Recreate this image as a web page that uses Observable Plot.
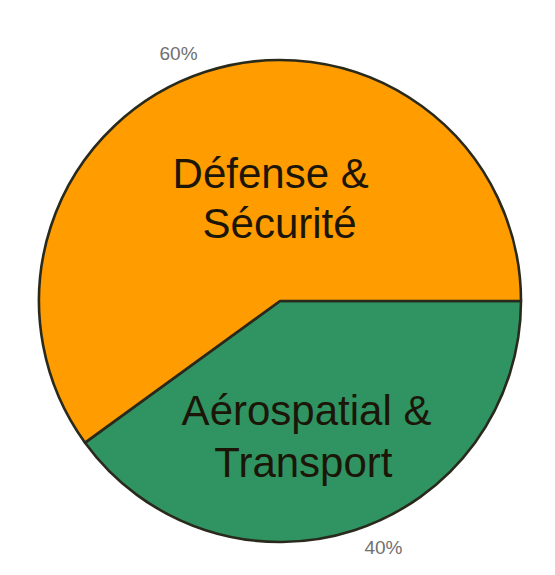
<!DOCTYPE html>
<html>
<head>
<meta charset="utf-8">
<script src="https://cdn.jsdelivr.net/npm/d3@7"></script>
<script src="https://cdn.jsdelivr.net/npm/@observablehq/plot@0.6"></script>
<style>
  html, body { margin: 0; padding: 0; background: #ffffff; }
  #chart { width: 555px; height: 575px; }
</style>
</head>
<body>
<div id="chart"></div>
<script>
// ---- data ----
const categories = ["Aérospatial & Transport", "Défense & Sécurité"];
const shares = [40, 60];
const colors = ["#2F9462", "#FF9C00"];
const sliceLines = [["Aérospatial &", "Transport"], ["Défense &", "Sécurité"]];
const pctLabels = ["40%", "60%"];

// ---- layout (unit-circle coordinates, not data) ----
const lineSpots = [
  [[0.108, 0.456], [0.095, 0.672]],
  [[-0.041, -0.527], [-0.004, -0.320]]
];
const pctSpots = [[0.427, 1.021], [-0.423, -1.029]];

const arcs = d3.pie().sort(null)
  .startAngle(Math.PI / 2)
  .endAngle(Math.PI / 2 + 2 * Math.PI)(shares);

const slices = categories.map((c, i) => ({category: c, value: shares[i], arc: arcs[i], color: colors[i]}));

const lineRows = [];
sliceLines.forEach((lines, i) => lines.forEach((t, j) => lineRows.push({text: t, x: lineSpots[i][j][0], y: lineSpots[i][j][1]})));
const pctRows = pctLabels.map((t, i) => ({text: t, x: pctSpots[i][0], y: pctSpots[i][1]}));

function pieMark(index, scales) {
  const cx = scales.x(0), cy = scales.y(0), r = scales.x(1) - cx;
  const g = d3.create("svg:g").attr("transform", `translate(${cx},${cy})`);
  const arcGen = d3.arc().innerRadius(0).outerRadius(r);
  g.selectAll("path").data(slices).join("path")
    .attr("d", d => arcGen(d.arc))
    .attr("fill", d => d.color)
    .attr("stroke", "#2a2a1c")
    .attr("stroke-width", 2.6)
    .attr("stroke-linejoin", "round");
  return g.node();
}

const chart = Plot.plot({
  width: 555,
  height: 575,
  margin: 0,
  style: {background: "#ffffff", fontFamily: "Liberation Sans, Arial, sans-serif"},
  x: {domain: [-1, 1], range: [39, 521], axis: null},
  y: {domain: [-1, 1], range: [60, 542], axis: null},
  marks: [
    pieMark,
    Plot.text(lineRows, {x: "x", y: "y", text: "text", fontSize: 42, fill: "#1c1608", textAnchor: "middle"}),
    Plot.text(pctRows, {x: "x", y: "y", text: "text", fontSize: 19, fill: "#707070", textAnchor: "middle"})
  ]
});
document.getElementById("chart").appendChild(chart);
</script>
</body>
</html>
